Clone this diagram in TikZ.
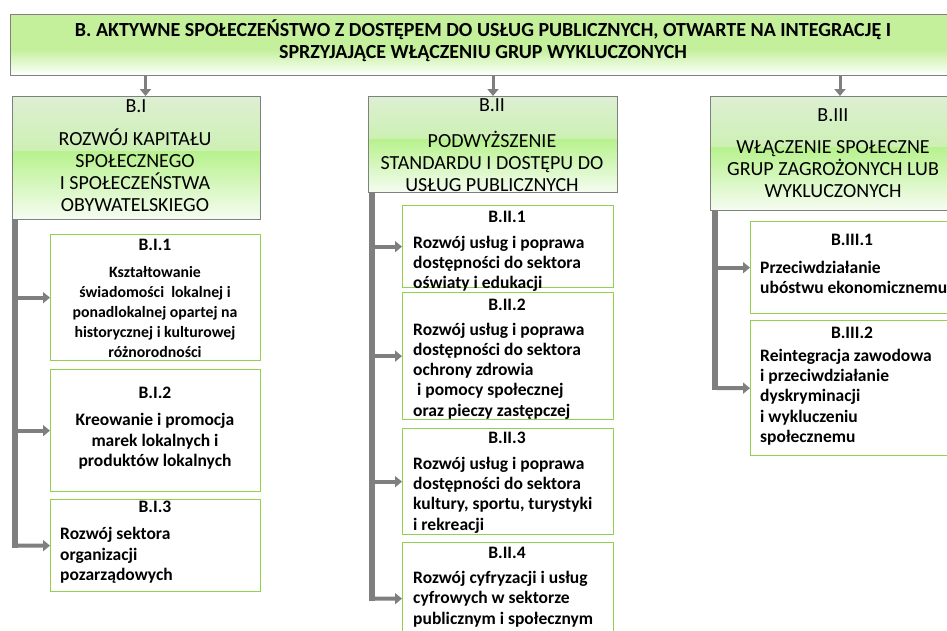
\documentclass[tikz,border=0pt]{standalone}
\usepackage{fontspec}
\setmainfont{Carlito}
\usetikzlibrary{arrows.meta}
\usetikzlibrary{calc}
\definecolor{linegray}{HTML}{7F7F7F}
\definecolor{framegray}{HTML}{808080}
\definecolor{boxgreen}{HTML}{92D050}
\definecolor{titlegreen}{HTML}{C4F09C}
\definecolor{headtop}{HTML}{DDEFD2}
\definecolor{headmid}{HTML}{B8F28E}
\definecolor{headlow}{HTML}{F6FCF2}
\tikzset{
  titlebox/.style= {draw=framegray, line width=1pt, anchor=north west, inner sep=0,
    path picture={
      \fill [titlegreen] (path picture bounding box.north west) rectangle ($(path picture bounding box.south east)!0.42!(path picture bounding box.north east)$);
      \shade [top color=titlegreen, bottom color=white] ($(path picture bounding box.south west)!0.43!(path picture bounding box.north west)$) rectangle (path picture bounding box.south east);
    }},
  headbox/.style= {draw=framegray, line width=1pt, anchor=north west, inner sep=0,
    path picture={
      \shade [top color=headtop, bottom color=headmid] (path picture bounding box.north west) rectangle ($(path picture bounding box.north east)!0.46!(path picture bounding box.south east)$);
      \shade [top color=headmid, bottom color=headlow] ($(path picture bounding box.north west)!0.45!(path picture bounding box.south west)$) rectangle (path picture bounding box.south east);
    }},
  subbox/.style= {draw=boxgreen, line width=1.3pt, fill=white, anchor=north west, inner sep=0},
  titletext/.style= {font=\fontsize{20}{22}\selectfont\bfseries, align=center, inner sep=0},
  headtext/.style= {font=\fontsize{20}{22}\selectfont, align=center, inner sep=0},
  subtext/.style= {font=\fontsize{17.5}{20.3}\selectfont\bfseries, align=center, inner sep=0},
  smalltext/.style= {font=\fontsize{15.8}{20}\selectfont\bfseries, align=center, inner sep=0},
  lefttext/.style= {font=\fontsize{17.5}{20.3}\selectfont\bfseries, align=left, anchor=west, inner sep=0},
  down/.style= {draw=linegray, line width=3pt, -{Triangle[width=11pt,length=7pt]}},
  trunk/.style= {draw=linegray, line width=6pt},
  branch/.style= {draw=linegray, line width=4pt, rounded corners=3pt, -{Triangle[width=11pt,length=7pt]}},
}

\begin{document}
\begin{tikzpicture}[x=1pt, y=-1pt]
  \useasboundingbox (0,0) rectangle (947,630);
  \clip (0,0) rectangle (947,630);

  \node [titlebox, minimum width=960pt, minimum height=61pt] (top) at (10,14) {};
  \node [titletext] (toptext) at (483,41) {B. AKTYWNE SPOŁECZEŃSTWO Z DOSTĘPEM DO USŁUG PUBLICZNYCH, OTWARTE NA INTEGRACJĘ I\\SPRZYJAJĄCE WŁĄCZENIU GRUP WYKLUCZONYCH};

  % first column
  \node [headbox, minimum width=248pt, minimum height=123pt] (b1) at (12,96) {};
  \node [headtext] (b1no) at (136,106) {B.I};
  \node [headtext] (b1text) at (135,170.5) {ROZWÓJ KAPITAŁU\\SPOŁECZNEGO\\I SPOŁECZEŃSTWA\\OBYWATELSKIEGO};
  \node [subbox, minimum width=210pt, minimum height=126pt] (b11) at (50,234) {};
  \node [subtext] (b11no) at (155,245) {B.I.1};
  \node [smalltext] (b11text) at (155,312) {Kształtowanie\\świadomości~ lokalnej i\\ponadlokalnej opartej na\\historycznej i kulturowej\\różnorodności};
  \node [subbox, minimum width=210pt, minimum height=122pt] (b12) at (50,369) {};
  \node [subtext] (b12no) at (155,393) {B.I.2};
  \node [subtext] (b12text) at (155,441.5) {Kreowanie i promocja\\marek lokalnych i\\produktów lokalnych};
  \node [subbox, minimum width=210pt, minimum height=92pt] (b13) at (50,499) {};
  \node [subtext] (b13no) at (155,507) {B.I.3};
  \node [lefttext] (b13text) at (60,555.5) {Rozwój sektora\\organizacji\\pozarządowych};

  % second column
  \node [headbox, minimum width=249pt, minimum height=96pt] (b2) at (368,96) {};
  \node [headtext] (b2no) at (492,105) {B.II};
  \node [headtext] (b2text) at (492,161.5) {PODWYŻSZENIE\\STANDARDU I DOSTĘPU DO\\USŁUG PUBLICZNYCH};
  \node [subbox, minimum width=211pt, minimum height=82pt] (b21) at (402,205) {};
  \node [subtext] (b21no) at (507,217) {B.II.1};
  \node [lefttext] (b21text) at (413,264) {Rozwój usług i poprawa\\dostępności do sektora\\oświaty i edukacji};
  \node [subbox, minimum width=211pt, minimum height=127pt] (b22) at (402,292) {};
  \node [subtext] (b22no) at (507,305) {B.II.2};
  \node [lefttext] (b22text) at (413,371) {Rozwój usług i poprawa\\dostępności do sektora\\ochrony zdrowia\\~i pomocy społecznej\\oraz pieczy zastępczej};
  \node [subbox, minimum width=211pt, minimum height=106pt] (b23) at (402,428) {};
  \node [subtext] (b23no) at (507,438) {B.II.3};
  \node [lefttext] (b23text) at (413,495) {Rozwój usług i poprawa\\dostępności do sektora\\kultury, sportu, turystyki\\i rekreacji};
  \node [subbox, minimum width=211pt, minimum height=112pt] (b24) at (402,542) {};
  \node [subtext] (b24no) at (507,553) {B.II.4};
  \node [lefttext] (b24text) at (413,599) {Rozwój cyfryzacji i usług\\cyfrowych w sektorze\\publicznym i społecznym};

  % third column
  \node [headbox, minimum width=280pt, minimum height=114pt] (b3) at (710,96) {};
  \node [headtext] (b3no) at (833,115) {B.III};
  \node [headtext] (b3text) at (833,169) {WŁĄCZENIE SPOŁECZNE\\GRUP ZAGROŻONYCH LUB\\WYKLUCZONYCH};
  \node [subbox, minimum width=240pt, minimum height=92pt] (b31) at (750,221) {};
  \node [subtext] (b31no) at (852,240) {B.III.1};
  \node [lefttext] (b31text) at (760,277.5) {Przeciwdziałanie\\ubóstwu ekonomicznemu};
  \node [subbox, minimum width=240pt, minimum height=135pt] (b32) at (750,320) {};
  \node [subtext] (b32no) at (852,333) {B.III.2};
  \node [lefttext] (b32text) at (760,397) {Reintegracja zawodowa\\i przeciwdziałanie\\dyskryminacji\\i wykluczeniu\\społecznemu};

  % connectors
  \draw [down] ([xshift=9pt]b1.north |- top.south) -- ([xshift=9pt]b1.north);
  \draw [down] (b2.north |- top.south) -- (b2.north);
  \draw [down] ([xshift=7pt]b3no.north |- top.south) -- ([xshift=7pt]b3no.north |- b3.north);

  \coordinate (t1) at (15,219);
  \coordinate (t2) at (372,192);
  \coordinate (t3) at (715,210);
  \draw [trunk] (t1) -- ([yshift=-2pt]b13.west -| t1);
  \draw [branch] (b11.west -| t1) -- (b11.west);
  \draw [branch] (b12.west -| t1) -- (b12.west);
  \draw [branch] (t1) |- (b13.west);
  \draw [trunk] (t2) -- ([yshift=-2pt]b24.west -| t2);
  \draw [branch] (b21.west -| t2) -- (b21.west);
  \draw [branch] (b22.west -| t2) -- (b22.west);
  \draw [branch] (b23.west -| t2) -- (b23.west);
  \draw [branch] (t2) |- (b24.west);
  \draw [trunk] (t3) -- ([yshift=-2pt]b32.west -| t3);
  \draw [branch] (b31.west -| t3) -- (b31.west);
  \draw [branch] (t3) |- (b32.west);
\end{tikzpicture}
\end{document}
